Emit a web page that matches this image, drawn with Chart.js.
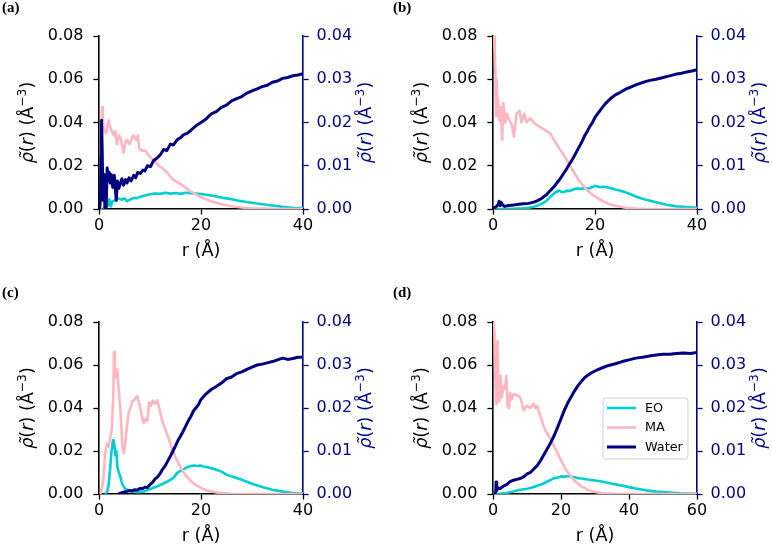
<!DOCTYPE html>
<html><head><meta charset="utf-8">
<script src="https://cdn.jsdelivr.net/npm/chart.js@4.4.1/dist/chart.umd.min.js"></script>
<style>
html,body{margin:0;padding:0;background:#fff;}
#wrap{position:relative;width:772px;height:548px;overflow:hidden;background:#fff;}
.p{position:absolute;width:386px;height:274px;}
canvas{display:block;}
</style></head><body>
<div id="wrap">
<div class="p" style="left:0;top:0"><canvas id="ca" width="386" height="274"></canvas></div>
<div class="p" style="left:386px;top:0"><canvas id="cb" width="386" height="274"></canvas></div>
<div class="p" style="left:0;top:274px"><canvas id="cc" width="386" height="274"></canvas></div>
<div class="p" style="left:386px;top:274px"><canvas id="cd" width="386" height="274"></canvas></div>
</div>
<script>
// ---------- tick labels / categories ----------
const seriesNames = ['EO', 'MA', 'Water'];
const panelTags = ['(a)', '(b)', '(c)', '(d)'];
const xTicks40 = [0, 20, 40];
const xTicks60 = [0, 20, 40, 60];
const yLeftTicks = [0, 0.02, 0.04, 0.06, 0.08];
const yRightTicks = [0, 0.01, 0.02, 0.03, 0.04];

// ---------- panel (a) ----------
const rEO_a = [0.9,1.1,1.3,1.5,1.7,2.0,2.3,2.6,3.0,3.5,4.0,4.5,5.0,5.5,6.0,6.5,7.0,7.5,8.0,9.0,10,11,12,13,14,15,16,17,18,19,20,21,22,23,24,25,26,27,28,29,30,32,34,36,38,40];
const eo_a = [0,0.0020,0.0058,0.0030,0.0015,0.0045,0.0012,0.0035,0.0038,0.0052,0.0047,0.0043,0.0049,0.0036,0.0042,0.0048,0.0052,0.0050,0.0056,0.0062,0.0068,0.0072,0.0070,0.0075,0.0071,0.0074,0.0070,0.0075,0.0073,0.0071,0.0069,0.0066,0.0062,0.0058,0.0053,0.0049,0.0045,0.0040,0.0036,0.0032,0.0029,0.0022,0.0016,0.0010,0.0006,0.0004];
const rMA_a = [0.3,0.5,0.6,0.75,0.9,1.1,1.4,1.7,1.9,2.2,2.5,2.9,3.2,3.5,3.9,4.2,4.5,4.8,5.2,5.5,6.0,6.5,6.8,7.3,7.6,7.9,8.4,9.1,9.7,10.4,11,11.7,12.4,13.3,14,14.6,15.3,16,17,18,19,20,21,22,24,26,28,30,34,40];
const ma_a = [0,0.020,0.047,0.044,0.037,0.036,0.035,0.039,0.041,0.038,0.036,0.034,0.036,0.030,0.034,0.033,0.030,0.026,0.031,0.032,0.030,0.033,0.034,0.032,0.034,0.028,0.027,0.027,0.025,0.023,0.022,0.020,0.019,0.017,0.015,0.0135,0.0125,0.0115,0.0098,0.0080,0.0068,0.0055,0.0045,0.0036,0.0022,0.0013,0.0007,0.0003,0.0001,0];
const rW_a = [0.1,0.3,0.4,0.5,0.6,0.8,1.0,1.2,1.4,1.6,1.8,2.0,2.2,2.4,2.7,3.0,3.2,3.4,3.6,3.9,4.2,4.5,4.8,5.2,5.5,5.9,6.3,6.8,7.2,7.6,8.1,8.6,9.0,9.5,10.1,10.7,11.4,12,12.7,13.3,14,14.6,15.3,16,16.6,17.3,18,18.6,19.3,20,21,22,23,24,25,26,27,28,29,30,31,32,33,34,35,36,37,38,39,40];
const w_a = [0,0.003,0.012,0.0205,0.015,0.002,0.008,0,0,0.0095,0.0065,0.0085,0.0060,0.0080,0.0050,0.0078,0.0045,0.0020,0.0065,0.0048,0.0060,0.0070,0.0055,0.0068,0.0060,0.0072,0.0065,0.0078,0.0072,0.0085,0.0082,0.0090,0.0088,0.0100,0.0098,0.0112,0.0118,0.0125,0.0138,0.0135,0.0150,0.0148,0.0160,0.0165,0.0172,0.0175,0.0182,0.0188,0.0195,0.0200,0.0208,0.0220,0.0225,0.0235,0.0240,0.0250,0.0255,0.0260,0.0268,0.0273,0.0278,0.0283,0.0286,0.0293,0.0296,0.0302,0.0304,0.0308,0.0310,0.0313];

// ---------- panel (b) ----------
const rEO_b = [0,2,4,5,6,7,8,9,10,10.5,11,11.5,12,12.5,13,13.5,14,14.5,15,15.5,16,16.5,17,17.5,18,18.5,19,19.5,20,20.5,21,21.5,22,22.5,23,24,25,26,27,28,29,30,32,34,36,38,40];
const eo_b = [0,0,0.0001,0.0002,0.0003,0.0006,0.0010,0.0018,0.0030,0.0038,0.0050,0.0062,0.0072,0.0080,0.0085,0.0078,0.0080,0.0085,0.0083,0.0088,0.0092,0.0095,0.0093,0.0096,0.0094,0.0097,0.0096,0.0102,0.0107,0.0104,0.0101,0.0103,0.0102,0.0099,0.0097,0.0090,0.0084,0.0077,0.0068,0.0058,0.0050,0.0043,0.0031,0.0020,0.0012,0.0009,0.0006];
const rMA_b = [0.2,0.35,0.45,0.6,0.7,0.85,1.0,1.2,1.5,1.8,2.0,2.4,2.7,3.2,3.7,4.1,4.6,5.2,5.6,6.1,6.6,7.3,8.2,9.2,10.2,11.2,12.2,13,14,15,16,17,18,19,20,21,22,23,24,25,26,28,30,35,40];
const ma_b = [0.080,0.072,0.064,0.043,0.060,0.052,0.050,0.041,0.047,0.032,0.049,0.040,0.044,0.041,0.039,0.0335,0.044,0.0455,0.040,0.044,0.040,0.042,0.0395,0.038,0.0365,0.035,0.031,0.028,0.0245,0.0205,0.0165,0.0128,0.0098,0.0076,0.0058,0.0043,0.0031,0.0021,0.0015,0.0010,0.0006,0.0002,0,0,0];
const rW_b = [0,0.5,1.0,1.2,1.4,1.6,1.9,2.3,3,4,5,6,7,8,8.5,9,9.5,10,10.5,11,11.5,12,12.5,13,13.5,14,14.5,15,15.5,16,16.5,17,17.5,18,18.5,19,19.5,20,21,22,23,24,25,26,27,28,29,30,31,32,33,34,35,36,37,38,39,40];
const w_b = [0.0002,0.0004,0.0010,0.0018,0.0008,0.0015,0.0009,0.0006,0.0008,0.0009,0.0011,0.0012,0.0013,0.0016,0.0018,0.0021,0.0024,0.0029,0.0033,0.0040,0.0046,0.0052,0.0060,0.0067,0.0076,0.0085,0.0094,0.0104,0.0113,0.0124,0.0135,0.0146,0.0157,0.0170,0.0180,0.0191,0.0200,0.0212,0.0228,0.0243,0.0255,0.0264,0.0270,0.0277,0.0282,0.0287,0.0291,0.0295,0.0298,0.0300,0.0303,0.0306,0.0309,0.0312,0.0314,0.0317,0.0319,0.0322];

// ---------- panel (c) ----------
const rEO_c = [1.2,1.6,1.9,2.2,2.4,2.6,2.75,2.9,3.05,3.2,3.4,3.6,3.9,4.2,4.5,4.8,5.2,5.6,6.1,7,7.5,8.2,8.8,9.5,10.1,10.8,11.4,12,12.7,13.4,14,14.6,15.3,15.8,16.3,16.8,17.3,18,18.6,19.2,19.9,20.5,21.2,22,23,24,25,26,27,28,29,30,32,34,36,38,40];
const eo_c = [0,0.001,0.0043,0.012,0.019,0.022,0.025,0.0245,0.022,0.018,0.020,0.0125,0.010,0.008,0.005,0.0035,0.0023,0.0020,0.0012,0.0012,0.0008,0.0010,0.0012,0.0018,0.0023,0.0030,0.0035,0.0042,0.0050,0.0058,0.0066,0.0075,0.0097,0.0105,0.0112,0.0118,0.0125,0.0130,0.0133,0.0130,0.0132,0.0128,0.0125,0.0120,0.0113,0.0104,0.0090,0.0082,0.0074,0.0066,0.0057,0.0048,0.0033,0.0020,0.0011,0.0005,0.0002];
const rMA_c = [0.3,0.6,0.9,1.2,1.6,1.9,2.2,2.5,2.8,2.95,3.1,3.25,3.45,3.6,3.8,4.2,4.6,4.9,5.2,5.5,5.8,6.2,6.5,7.0,7.5,8.1,8.5,8.8,9.2,9.5,9.8,10.2,10.5,11,11.4,11.8,12.4,13,13.5,14.3,15.3,16,16.6,17.3,18,19,20,21,22,23,24,26,30,40];
const ma_c = [0,0.003,0.008,0.019,0.0235,0.022,0.026,0.030,0.045,0.066,0.055,0.058,0.054,0.058,0.050,0.039,0.022,0.019,0.025,0.032,0.038,0.040,0.043,0.044,0.0455,0.040,0.035,0.033,0.035,0.034,0.0425,0.041,0.0435,0.042,0.0435,0.040,0.034,0.030,0.027,0.021,0.0155,0.0125,0.010,0.0078,0.006,0.0042,0.0028,0.0018,0.0012,0.0007,0.0004,0.0001,0,0];
const rW_c = [3.8,4.2,5,5.5,6,6.5,7,7.5,8,8.5,9,9.5,10,10.5,11,11.5,12,12.5,13,13.5,14,14.5,15,15.5,16,16.5,17,17.5,18,18.5,19,19.5,20,21,22,23,24,25,26,27,28,29,30,31,32,33,34,35,36,37,38,39,40];
const w_c = [0,0.0002,0.0005,0.0006,0.0008,0.0007,0.0010,0.0009,0.0013,0.0012,0.0016,0.0015,0.0022,0.0027,0.0035,0.0040,0.0048,0.0058,0.0066,0.0077,0.0088,0.0100,0.0112,0.0125,0.0135,0.0146,0.0158,0.0170,0.0180,0.0193,0.0200,0.0208,0.0220,0.0233,0.0243,0.0250,0.0258,0.0268,0.0272,0.0280,0.0284,0.0290,0.0295,0.0300,0.0302,0.0305,0.0308,0.0312,0.0316,0.0313,0.0315,0.0318,0.0318];

// ---------- panel (d) ----------
const rEO_d = [0,2,4,6,8,10,11,12,13,14,15,16,17,18,19,20,21,22,23,24,25,26,27,28,30,32,35,38,40,42,45,48,50,55,60];
const eo_d = [0,0.0001,0.0005,0.0012,0.0020,0.0024,0.0028,0.0033,0.0038,0.0043,0.0050,0.0058,0.0066,0.0074,0.0076,0.0082,0.0080,0.0084,0.0080,0.0078,0.0074,0.0072,0.0070,0.0067,0.0063,0.0058,0.0048,0.0039,0.0032,0.0026,0.0017,0.0011,0.0009,0.0003,0.0001];
const rMA_d = [0.2,0.4,0.6,0.9,1.1,1.3,1.6,1.9,2.2,2.6,3.0,3.5,3.9,4.3,4.7,5,5.5,6,7,8,9,10,11,12,12.5,13,14,15,16,17,17.5,18,19,20,21,22,23,24,25,26,27,28,29,30,32,34,36,40,60];
const ma_d = [0.080,0.075,0.060,0.042,0.060,0.071,0.050,0.043,0.055,0.045,0.050,0.049,0.055,0.041,0.040,0.047,0.044,0.0465,0.046,0.045,0.039,0.041,0.040,0.042,0.040,0.041,0.036,0.031,0.028,0.0255,0.024,0.022,0.019,0.0155,0.0125,0.0100,0.0080,0.0062,0.0048,0.0036,0.0027,0.0019,0.0013,0.0009,0.0004,0.0002,0,0,0];
const rW_d = [0.5,0.8,0.9,1.1,1.4,2,3,4,5,6,7,8,9,10,11,12,13,14,15,16,17,18,19,20,21,22,23,24,25,26,27,28,29,30,31,32,34,36,38,40,42,44,46,48,50,52,54,56,58,60];
const w_d = [0,0.0005,0.0028,0.0008,0.0015,0.0012,0.0018,0.0022,0.0029,0.0032,0.0034,0.0036,0.0040,0.0047,0.0050,0.0058,0.0066,0.0078,0.0092,0.0106,0.0120,0.0136,0.0155,0.0175,0.0195,0.0212,0.0226,0.0240,0.0252,0.0262,0.0271,0.0277,0.0282,0.0286,0.0290,0.0293,0.0299,0.0303,0.0308,0.0312,0.0316,0.0318,0.0321,0.0323,0.0325,0.0325,0.0327,0.0328,0.0327,0.0329];

// ---------- styling ----------
const FONT = "'DejaVu Sans', sans-serif";
const C_EO = '#00CED1', C_MA = '#FFB6C1', C_W = '#000080';

function pts(r, v) {
  const n = Math.min(r.length, v.length);
  const out = [];
  for (let i = 0; i < n; i++) out.push({x: r[i], y: v[i]});
  return out;
}

function drawYLabel(ctx, cx, cy, color) {
  const s = 17.6;
  const segs = [
    {t: 'ρ̃', f: `italic ${s}px ${FONT}`},
    {t: '(', f: `${s}px ${FONT}`},
    {t: 'r', f: `italic ${s}px ${FONT}`},
    {t: ') (Å', f: `${s}px ${FONT}`},
    {t: '−3', f: `${(s * 0.7).toFixed(1)}px ${FONT}`, dy: -s * 0.42},
    {t: ')', f: `${s}px ${FONT}`}
  ];
  ctx.save();
  let total = 0;
  segs.forEach(g => { ctx.font = g.f; g.w = ctx.measureText(g.t).width; total += g.w; });
  ctx.translate(cx, cy);
  ctx.rotate(-Math.PI / 2);
  ctx.fillStyle = color;
  ctx.textBaseline = 'alphabetic';
  ctx.textAlign = 'left';
  let x = -total / 2;
  const base = s * 0.36;
  segs.forEach(g => { ctx.font = g.f; ctx.fillText(g.t, x, base + (g.dy || 0)); x += g.w; });
  ctx.restore();
}

function drawLegend(chart, L) {
  const ctx = chart.ctx;
  ctx.save();
  const r = 3;
  ctx.beginPath();
  ctx.moveTo(L.x + r, L.y);
  ctx.lineTo(L.x + L.w - r, L.y); ctx.quadraticCurveTo(L.x + L.w, L.y, L.x + L.w, L.y + r);
  ctx.lineTo(L.x + L.w, L.y + L.h - r); ctx.quadraticCurveTo(L.x + L.w, L.y + L.h, L.x + L.w - r, L.y + L.h);
  ctx.lineTo(L.x + r, L.y + L.h); ctx.quadraticCurveTo(L.x, L.y + L.h, L.x, L.y + L.h - r);
  ctx.lineTo(L.x, L.y + r); ctx.quadraticCurveTo(L.x, L.y, L.x + r, L.y);
  ctx.closePath();
  ctx.fillStyle = 'rgba(255,255,255,0.8)';
  ctx.fill();
  ctx.strokeStyle = '#d0d0d0';
  ctx.lineWidth = 1;
  ctx.stroke();
  seriesNames.forEach((name, i) => {
    const ds = chart.data.datasets.find(d => d.label === name);
    const y = L.y + 10 + i * 19.5;
    ctx.strokeStyle = ds.borderColor;
    ctx.lineWidth = ds.borderWidth;
    ctx.beginPath(); ctx.moveTo(L.x + 4, y); ctx.lineTo(L.x + 33, y); ctx.stroke();
    ctx.fillStyle = '#000';
    ctx.font = `12.8px ${FONT}`;
    ctx.textBaseline = 'middle';
    ctx.textAlign = 'left';
    ctx.fillText(name, L.x + 42, y + 0.5);
  });
  ctx.restore();
}

const annotPlugin = {
  id: 'annot',
  afterDraw(chart, args, o) {
    const ctx = chart.ctx, ca = chart.chartArea;
    const cy = (ca.top + ca.bottom) / 2;
    drawYLabel(ctx, ca.left - 72, cy, '#000');
    drawYLabel(ctx, ca.right + 62, cy, C_W);
    ctx.save();
    ctx.font = "bold 15px 'Liberation Serif', serif";
    ctx.fillStyle = '#000';
    ctx.textBaseline = 'middle';
    ctx.textAlign = 'left';
    ctx.fillText(o.tag, o.tagX, o.tagY);
    ctx.restore();
    if (o.legend) drawLegend(chart, o.legend);
  }
};

function makeChart(id, g, d, tag, xt, xmax, legend) {
  const common = {pointRadius: 0, pointHoverRadius: 0, fill: false, tension: 0, borderJoinStyle: 'round'};
  const tickFont = {family: FONT, size: 16};
  new Chart(document.getElementById(id), {
    type: 'line',
    data: {
      datasets: [
        Object.assign({label: 'Water', data: pts(d.rW, d.w), borderColor: C_W, borderWidth: 3, yAxisID: 'y1', order: 0}, common),
        Object.assign({label: 'MA', data: pts(d.rM, d.m), borderColor: C_MA, borderWidth: 2.6, yAxisID: 'y', order: 1}, common),
        Object.assign({label: 'EO', data: pts(d.rE, d.e), borderColor: C_EO, borderWidth: 2.6, yAxisID: 'y', order: 2}, common)
      ]
    },
    options: {
      responsive: false, animation: false, events: [],
      layout: {padding: {top: g.T, left: 0, right: 0, bottom: 0}},
      plugins: {
        legend: {display: false}, tooltip: {enabled: false},
        annot: {tag: tag, tagX: g.tx, tagY: g.ty, legend: legend}
      },
      scales: {
        x: {
          type: 'linear', min: 0, max: xmax,
          afterBuildTicks: s => { s.ticks = xt.map(v => ({value: v})); },
          afterFit: s => { s.height = g.B; },
          ticks: {font: tickFont, color: '#000', padding: 2, maxRotation: 0, minRotation: 0, autoSkip: false, callback: v => String(v)},
          grid: {drawOnChartArea: false, drawTicks: true, tickLength: 5.6, tickColor: '#000', tickWidth: 1.3},
          border: {display: true, color: '#000', width: 1.6},
          title: {display: true, text: 'r (Å)', color: '#000', font: {family: FONT, size: 17.6}, padding: {top: 0, bottom: g.B - 42.5 - 10.6}}
        },
        y: {
          type: 'linear', position: 'left', min: 0, max: 0.08,
          afterBuildTicks: s => { s.ticks = yLeftTicks.map(v => ({value: v})); },
          afterFit: s => { s.width = g.L; },
          ticks: {font: tickFont, color: '#000', padding: 10, callback: v => v.toFixed(2)},
          grid: {drawOnChartArea: false, drawTicks: true, tickLength: 5.6, tickColor: '#000', tickWidth: 1.3},
          border: {display: true, color: '#000', width: 1.6}
        },
        y1: {
          type: 'linear', position: 'right', min: 0, max: 0.04,
          afterBuildTicks: s => { s.ticks = yRightTicks.map(v => ({value: v})); },
          afterFit: s => { s.width = g.R; },
          ticks: {font: tickFont, color: C_W, padding: 8, callback: v => v.toFixed(2)},
          grid: {drawOnChartArea: false, drawTicks: true, tickLength: 5.6, tickColor: C_W, tickWidth: 1.3},
          border: {display: true, color: C_W, width: 1.6}
        }
      }
    },
    plugins: [annotPlugin]
  });
}

const G = {
  a: {L: 99, R: 83, T: 36, B: 65, tx: 2, ty: 8.5},
  b: {L: 107, R: 75, T: 36, B: 65, tx: 7, ty: 8},
  c: {L: 99, R: 83, T: 48, B: 54, tx: 2, ty: 19},
  d: {L: 107, R: 75, T: 48, B: 54, tx: 7, ty: 19}
};

makeChart('ca', G.a, {rE: rEO_a, e: eo_a, rM: rMA_a, m: ma_a, rW: rW_a, w: w_a}, panelTags[0], xTicks40, 40, null);
makeChart('cb', G.b, {rE: rEO_b, e: eo_b, rM: rMA_b, m: ma_b, rW: rW_b, w: w_b}, panelTags[1], xTicks40, 40, null);
makeChart('cc', G.c, {rE: rEO_c, e: eo_c, rM: rMA_c, m: ma_c, rW: rW_c, w: w_c}, panelTags[2], xTicks40, 40, null);
makeChart('cd', G.d, {rE: rEO_d, e: eo_d, rM: rMA_d, m: ma_d, rW: rW_d, w: w_d}, panelTags[3], xTicks60, 60, {x: 217, y: 124, w: 85, h: 61});
</script>
</body></html>
